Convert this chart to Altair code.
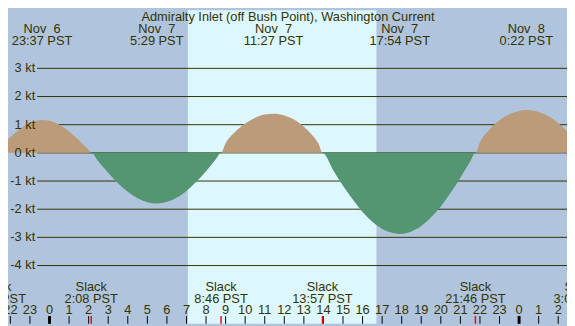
import altair as alt
import pandas as pd

# ---- data (hours since Nov 7 00:00 PST) ----
hours = [-2.75, -2.5, -2.0, -1.5, -1.0, -0.383, 0.0, 0.5, 1.0, 1.5, 2.0, 2.133,
         2.5, 3.0, 3.5, 4.0, 4.5, 5.0, 5.483, 6.0, 6.5, 7.0, 7.5, 8.0, 8.5, 8.767,
         9.0, 9.5, 10.0, 10.5, 11.0, 11.45, 12.0, 12.5, 13.0, 13.5, 13.75, 13.95,
         14.5, 15.0, 15.5, 16.0, 16.5, 17.0, 17.5, 17.9, 18.5, 19.0, 19.5, 20.0,
         20.5, 21.0, 21.5, 21.767,
         22.0, 22.5, 23.0, 23.5, 24.0, 24.367, 25.0, 25.5, 26.0, 26.5, 27.0, 27.12]
knots = [0.0, 0.19, 0.56, 0.86, 1.07, 1.17, 1.14, 1.00, 0.76, 0.45, 0.10, 0.0,
         -0.31, -0.71, -1.08, -1.38, -1.61, -1.75, -1.80, -1.74, -1.59, -1.35, -1.03, -0.65, -0.23, 0.0,
         0.34, 0.75, 1.04, 1.24, 1.36, 1.39, 1.33, 1.18, 0.93, 0.57, 0.32, 0.0,
         -0.62, -1.17, -1.66, -2.10, -2.45, -2.70, -2.84, -2.88, -2.79, -2.60, -2.29, -1.90,
         -1.42, -0.88, -0.31, 0.0,
         0.38, 0.84, 1.16, 1.37, 1.49, 1.52, 1.45, 1.30, 1.06, 0.72, 0.23, 0.0]

slack_hours = [-2.75, 2.133, 8.767, 13.95, 21.767, 27.12]
slack_labels = ["21:15 PST", "2:08 PST", "8:46 PST", "13:57 PST", "21:46 PST", "3:07 PST"]

peak_hours = [-0.383, 5.483, 11.45, 17.9, 24.367]
peak_dates = ["Nov\u00a0\u00a06", "Nov\u00a0\u00a07", "Nov\u00a0\u00a07", "Nov\u00a0\u00a07", "Nov\u00a0\u00a08"]
peak_times = ["23:37 PST", "5:29 PST", "11:27 PST", "17:54 PST", "0:22 PST"]

tick_hours = list(range(-2, 27))
tick_labels = [str(h % 24) for h in tick_hours]
midnight_hours = [0, 24]

kt_levels = [-4, -3, -2, -1, 0, 1, 2, 3]
kt_labels = [f"{k} kt" for k in kt_levels]

sunrise, sunset = 7.07, 16.71
title = "Admiralty Inlet (off Bush Point), Washington Current"

# ---- layout ----
W, H = 567, 318
sx, sy = W / 575, H / 326
X_DOM = [-2.122, 26.449]
Y_DOM = [-6.067, 5.063]
INK = "#333300"
FONT = "Liberation Sans"

xs = alt.Scale(domain=X_DOM, nice=False, zero=False)
ys = alt.Scale(domain=Y_DOM, nice=False, zero=False)

curve = pd.DataFrame({"h": hours, "v": knots})
curve["pos"] = curve["v"].clip(lower=0)
curve["neg"] = curve["v"].clip(upper=0)

day = alt.Chart(pd.DataFrame({"a": [sunrise], "b": [sunset]})).mark_rect(
    color="#DDF7FF").encode(
    x=alt.X("a:Q", scale=xs, axis=None), x2="b:Q",
    y=alt.value(0), y2=alt.value(H))

kt_df = pd.DataFrame({"k": kt_levels, "lab": kt_labels})
grid = alt.Chart(kt_df).mark_rule(color=INK, strokeWidth=1).encode(
    y=alt.Y("k:Q", scale=ys, axis=None),
    x=alt.value(30 * sx), x2=alt.value(W))

pos = alt.Chart(curve).mark_area(color="#BC9B7B", interpolate="monotone", clip=True).encode(
    x=alt.X("h:Q", scale=xs, axis=None),
    y=alt.Y("pos:Q", scale=ys, axis=None), y2=alt.datum(0))
neg = alt.Chart(curve).mark_area(color="#539671", interpolate="monotone", clip=True).encode(
    x=alt.X("h:Q", scale=xs, axis=None),
    y=alt.Y("neg:Q", scale=ys, axis=None), y2=alt.datum(0))

ylabels = alt.Chart(kt_df).mark_text(
    align="right", baseline="alphabetic", dy=4, font=FONT, fontSize=13, color=INK).encode(
    y=alt.Y("k:Q", scale=ys, axis=None), x=alt.value(28 * sx), text="lab:N")

ticks_df = pd.DataFrame({"h": tick_hours, "lab": tick_labels})
ticks = alt.Chart(ticks_df).mark_rule(color="black", strokeWidth=1).encode(
    x=alt.X("h:Q", scale=xs, axis=None), y=alt.value(318 * sy), y2=alt.value(H))
mid = alt.Chart(pd.DataFrame({"h": midnight_hours})).mark_rule(color="black", strokeWidth=3).encode(
    x=alt.X("h:Q", scale=xs, axis=None), y=alt.value(318 * sy), y2=alt.value(H))
hour_text = alt.Chart(ticks_df).mark_text(
    align="center", baseline="alphabetic", font=FONT, fontSize=13, color=INK).encode(
    x=alt.X("h:Q", scale=xs, axis=None), y=alt.value(316 * sy), text="lab:N")

slack_df = pd.DataFrame({"h": slack_hours, "lab": slack_labels, "s": ["Slack"] * len(slack_hours)})
slack_ticks = alt.Chart(slack_df).mark_rule(color="#FF0000", strokeWidth=1.5).encode(
    x=alt.X("h:Q", scale=xs, axis=None), y=alt.value(318 * sy), y2=alt.value(H))
slack_word = alt.Chart(slack_df).mark_text(
    align="center", baseline="alphabetic", font=FONT, fontSize=13, color=INK).encode(
    x=alt.X("h:Q", scale=xs, axis=None), y=alt.value(291.5 * sy), text="s:N")
slack_time = alt.Chart(slack_df).mark_text(
    align="center", baseline="alphabetic", font=FONT, fontSize=13, color=INK).encode(
    x=alt.X("h:Q", scale=xs, axis=None), y=alt.value(304 * sy), text="lab:N")

peak_df = pd.DataFrame({"h": peak_hours, "d": peak_dates, "t": peak_times})
peak_date = alt.Chart(peak_df).mark_text(
    align="center", baseline="alphabetic", font=FONT, fontSize=13, color=INK).encode(
    x=alt.X("h:Q", scale=xs, axis=None), y=alt.value(24 * sy), text="d:N")
peak_time = alt.Chart(peak_df).mark_text(
    align="center", baseline="alphabetic", font=FONT, fontSize=13, color=INK).encode(
    x=alt.X("h:Q", scale=xs, axis=None), y=alt.value(36 * sy), text="t:N")

title_txt = alt.Chart(pd.DataFrame({"t": [title]})).mark_text(
    align="center", baseline="alphabetic", font=FONT, fontSize=13, color=INK).encode(
    x=alt.value(288 * sx), y=alt.value(11.5 * sy), text="t:N")

chart = alt.layer(
    day, grid, pos, neg, ylabels, ticks, mid, slack_ticks,
    hour_text, slack_word, slack_time, peak_date, peak_time, title_txt
).properties(
    width=W, height=H, padding=0, background="#B0C4DE",
    autosize=alt.AutoSizeParams(type="none"),
).configure_view(strokeWidth=0)

chart.save("out.html", embed_options={"renderer": "svg", "actions": False})
